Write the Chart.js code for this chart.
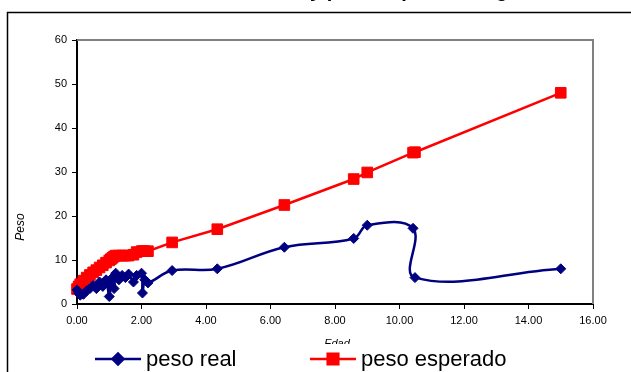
<!DOCTYPE html>
<html>
<head>
<meta charset="utf-8">
<script src="https://cdn.jsdelivr.net/npm/chart.js@4.4.1/dist/chart.umd.min.js"></script>
<style>
    html, body { margin: 0; padding: 0; background: #fff; overflow: hidden; }
    #wrap { width: 631px; height: 372px; }
</style>
</head>
<body>
<div id="wrap"><canvas id="chart" width="631" height="372"></canvas></div>
<script>
// Edad (años) de cada niño, en el orden de la hoja
const edades = [0.0, 0.05, 0.1, 0.2, 0.3, 0.4, 0.5, 0.6, 0.7, 0.8,
    0.9, 1.0, 1.05, 1.1, 1.15, 1.2, 1.3, 1.4, 1.5, 1.6,
    1.75, 1.85, 2.0, 2.03, 2.1, 2.2, 2.95, 4.35, 6.43, 8.58,
    9.0, 10.42, 10.48, 15.0];
const pesoReal = [3.2, 2.5, 2.0, 2.2, 3.0, 3.5, 4.2, 3.5, 5.0, 4.0,
    5.5, 1.7, 4.5, 6.0, 3.5, 7.0, 5.5, 6.5, 6.0, 6.8,
    5.0, 6.5, 7.0, 2.5, 5.5, 4.8, 7.6, 8.0, 12.9, 14.9,
    17.9, 17.2, 6.0, 8.0];
const pesoEsperado = [3.4, 4.0, 4.5, 5.3, 6.0, 6.6, 7.2, 7.7, 8.3, 8.8,
    9.4, 9.9, 10.2, 10.5, 10.8, 11.0, 11.0, 11.0, 11.0, 11.0,
    11.2, 11.8, 12.0, 12.0, 12.0, 12.0, 14.0, 17.0, 22.5, 28.4,
    29.9, 34.4, 34.5, 48.0];
const seriesNames = ['peso real', 'peso esperado'];
const xTitle = 'Edad';
const yTitle = 'Peso';
// título cortado por el borde superior en la imagen original
const chartTitle = 'Peso real y peso esperado según edad';

const FONT = "'Liberation Sans', Arial, sans-serif";
const BLUE = '#000080';
const RED = '#FF0000';

function toPoints(xs, ys) {
    return xs.map((x, i) => ({ x: x, y: ys[i] }));
}

// Marco exterior, título recortado y borde gris del área de trazado
const framePlugin = {
    id: 'frame',
    beforeDraw(chart) {
        const ctx = chart.ctx;
        ctx.save();
        ctx.fillStyle = '#fff';
        ctx.fillRect(0, 0, chart.width, chart.height);
        ctx.strokeStyle = '#000';
        ctx.lineWidth = 1.5;
        ctx.strokeRect(7.5, 12.5, 700, 400);
        ctx.fillStyle = '#000';
        ctx.font = 'bold 20px ' + FONT;
        ctx.textAlign = 'center';
        ctx.textBaseline = 'alphabetic';
        ctx.fillText(chartTitle, 400, -3);
        ctx.restore();
    },
    beforeDatasetsDraw(chart) {
        const a = chart.chartArea;
        const ctx = chart.ctx;
        ctx.save();
        ctx.strokeStyle = '#808080';
        ctx.lineWidth = 2;
        ctx.beginPath();
        ctx.moveTo(a.left, a.top);
        ctx.lineTo(a.right, a.top);
        ctx.lineTo(a.right, a.bottom);
        ctx.stroke();
        ctx.restore();
    }
};

// Títulos de ejes y leyenda (línea + marcador como en Excel)
const legendPlugin = {
    id: 'excelLegend',
    afterDraw(chart) {
        const ctx = chart.ctx;
        ctx.save();
        ctx.fillStyle = '#000';
        ctx.font = 'italic 11px ' + FONT;
        ctx.textAlign = 'center';
        ctx.textBaseline = 'middle';
        ctx.fillText(xTitle, 337, 344);
        ctx.font = 'italic 12px ' + FONT;
        ctx.translate(21, 227);
        ctx.rotate(-Math.PI / 2);
        ctx.fillText(yTitle, 0, 0);
        ctx.restore();

        ctx.save();
        ctx.fillStyle = '#fff';
        ctx.fillRect(85, 344, 440, 28);
        const items = [
            { x: 95, color: BLUE, style: 'rectRot', r: 5.5, label: seriesNames[0] },
            { x: 310, color: RED, style: 'rect', r: 7.5, label: seriesNames[1] }
        ];
        const y = 359;
        items.forEach(it => {
            ctx.strokeStyle = it.color;
            ctx.lineWidth = 2.5;
            ctx.beginPath();
            ctx.moveTo(it.x, y);
            ctx.lineTo(it.x + 46, y);
            ctx.stroke();
            ctx.fillStyle = it.color;
            Chart.helpers.drawPoint(ctx, { pointStyle: it.style, radius: it.r, borderWidth: 1 }, it.x + 23, y);
            ctx.fill();
            ctx.fillStyle = '#000';
            ctx.font = '22px ' + FONT;
            ctx.textAlign = 'left';
            ctx.textBaseline = 'middle';
            ctx.fillText(it.label, it.x + 51, y + 1);
        });
        ctx.restore();
    }
};

const ctx = document.getElementById('chart').getContext('2d');
new Chart(ctx, {
    type: 'scatter',
    data: {
        datasets: [
            {
                label: seriesNames[0],
                data: toPoints(edades, pesoReal),
                showLine: true,
                borderColor: BLUE,
                backgroundColor: BLUE,
                borderWidth: 2.5,
                tension: 0.4,
                pointStyle: 'rectRot',
                pointRadius: 5,
                pointBorderWidth: 1,
                clip: false
            },
            {
                label: seriesNames[1],
                data: toPoints(edades, pesoEsperado),
                showLine: true,
                borderColor: RED,
                backgroundColor: RED,
                borderWidth: 2.5,
                tension: 0,
                pointStyle: 'rect',
                pointRadius: 7.5,
                pointBorderWidth: 1,
                clip: false
            }
        ]
    },
    options: {
        responsive: false,
        animation: false,
        devicePixelRatio: 1,
        layout: { padding: { left: 0, right: 38, top: 40, bottom: 0 } },
        plugins: {
            legend: { display: false },
            tooltip: { enabled: false },
            title: { display: false }
        },
        scales: {
            x: {
                type: 'linear',
                min: 0,
                max: 16,
                afterFit: scale => { scale.height = 68; },
                ticks: {
                    stepSize: 2,
                    padding: 5,
                    color: '#000',
                    font: { family: FONT, size: 11 },
                    callback: v => v.toFixed(2),
                    maxRotation: 0
                },
                grid: { drawOnChartArea: false, tickLength: 5, color: '#000', tickWidth: 1 },
                border: { color: '#000', width: 2 }
            },
            y: {
                min: 0,
                max: 60,
                afterFit: scale => { scale.width = 77; },
                ticks: {
                    stepSize: 10,
                    padding: 5,
                    color: '#000',
                    font: { family: FONT, size: 11 }
                },
                grid: { drawOnChartArea: false, tickLength: 5, color: '#000', tickWidth: 1 },
                border: { color: '#000', width: 2 }
            }
        }
    },
    plugins: [framePlugin, legendPlugin]
});
</script>
</body>
</html>
